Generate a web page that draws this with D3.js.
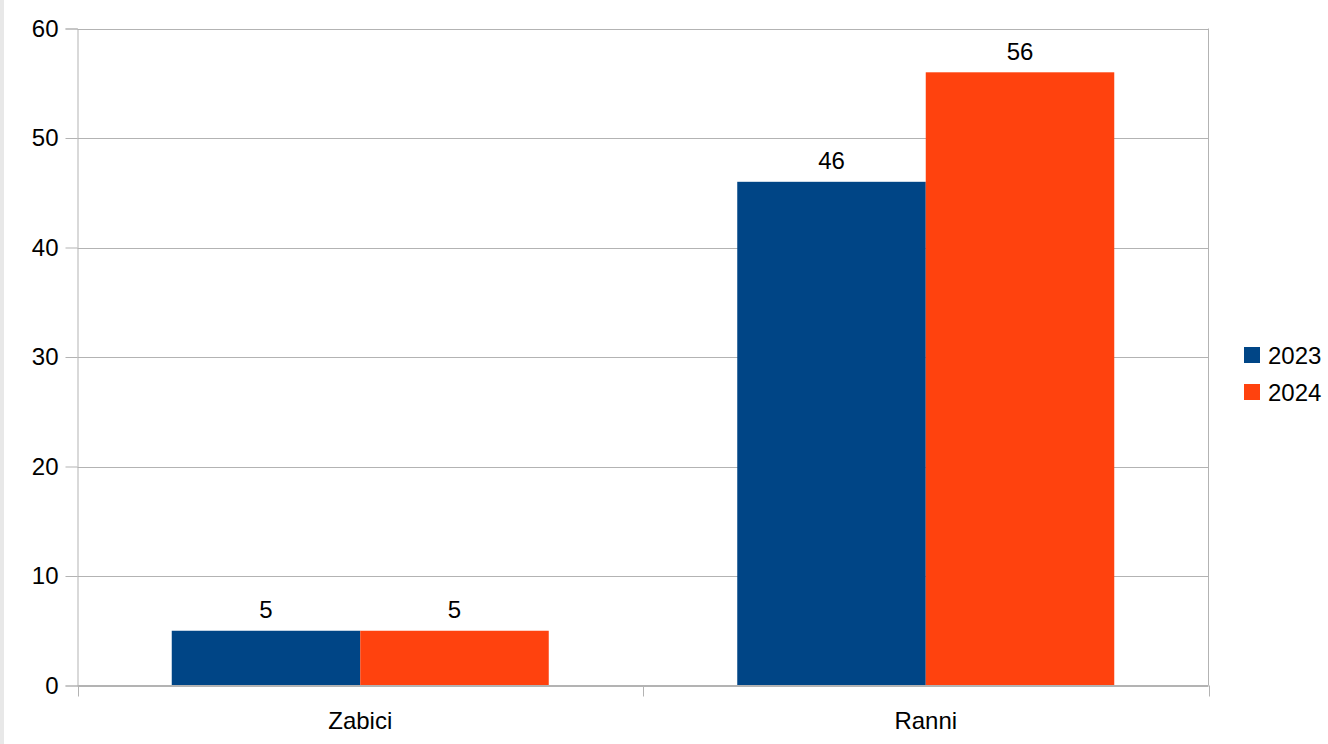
<!DOCTYPE html>
<html>
<head>
<meta charset="utf-8">
<script src="https://cdn.jsdelivr.net/npm/d3@7"></script>
<style>
  html, body { margin: 0; padding: 0; background: #fff; }
  svg { display: block; }
  text { font-family: "Liberation Sans", Arial, sans-serif; fill: #000; }
</style>
</head>
<body>
<svg id="chart" width="1328" height="744"></svg>
<script>
// Categories and yearly series
const categories = ["Zabici", "Ranni"];
const seriesNames = ["2023", "2024"];
const values2023 = [5, 46];
const values2024 = [5, 56];
const yTicks = [0, 10, 20, 30, 40, 50, 60];
const seriesColors = ["#004586", "#ff420e"];

const seriesValues = [values2023, values2024];

const svg = d3.select("#chart");
const W = 1328, H = 744;

// thin grey strip on the left edge
svg.append("rect").attr("x", 0).attr("y", 0).attr("width", 4).attr("height", H).attr("fill", "#e8e8e8");

const plot = { left: 77.5, right: 1208.5, top: 28.5, bottom: 685.5 };

const y = d3.scaleLinear().domain([0, 60]).range([plot.bottom, plot.top]);
const x0 = d3.scaleBand().domain(categories).range([plot.left, plot.right]).paddingInner(0).paddingOuter(0);
const x1 = d3.scaleBand().domain(seriesNames)
  .range([x0.bandwidth() / 6, x0.bandwidth() * 5 / 6]).padding(0);

const gridColor = "#b3b3b3";

// horizontal gridlines
svg.append("g").selectAll("line").data(yTicks).join("line")
  .attr("x1", plot.left).attr("x2", plot.right)
  .attr("y1", d => Math.round(y(d)) + 0.5).attr("y2", d => Math.round(y(d)) + 0.5)
  .attr("stroke", gridColor).attr("stroke-width", 1);

// y axis
const yAxis = d3.axisLeft(y).tickValues(yTicks).tickSize(12).tickPadding(7).tickFormat(d3.format("d"));
const gy = svg.append("g").attr("transform", `translate(${plot.left},0)`).call(yAxis);
gy.select(".domain").attr("stroke", gridColor);
gy.selectAll(".tick line").attr("stroke", gridColor);
gy.selectAll(".tick text").attr("font-size", 24).attr("font-family", "Liberation Sans, Arial, sans-serif").attr("fill", "#000");

// right border
svg.append("line").attr("x1", plot.right).attr("x2", plot.right).attr("y1", plot.top).attr("y2", plot.bottom)
  .attr("stroke", gridColor);

// bars
const groups = svg.append("g").selectAll("g").data(categories).join("g")
  .attr("transform", d => `translate(${x0(d)},0)`);

groups.selectAll("rect")
  .data((c, i) => seriesNames.map((s, j) => ({ s, v: seriesValues[j][i], j })))
  .join("rect")
  .attr("x", d => x1(d.s))
  .attr("width", x1.bandwidth())
  .attr("y", d => y(d.v))
  .attr("height", d => y(0) - y(d.v))
  .attr("fill", d => seriesColors[d.j]);

// value labels
groups.selectAll("text.val")
  .data((c, i) => seriesNames.map((s, j) => ({ s, v: seriesValues[j][i], j })))
  .join("text").attr("class", "val")
  .attr("x", d => x1(d.s) + x1.bandwidth() / 2)
  .attr("y", d => y(d.v) - 12.5)
  .attr("text-anchor", "middle")
  .attr("font-size", 24)
  .text(d => d.v);

// x axis line and category separators
const xBoundaries = [plot.left, ...categories.map(c => x0(c) + x0.bandwidth())];
const xAxis = d3.axisBottom(x0).tickSize(0).tickPadding(0);
const gx = svg.append("g").attr("transform", `translate(0,${plot.bottom})`);
gx.append("line").attr("x1", plot.left).attr("x2", plot.right).attr("y1", 0).attr("y2", 0).attr("stroke", gridColor);
gx.selectAll("line.sep").data(xBoundaries).join("line").attr("class", "sep")
  .attr("x1", d => Math.round(d) + 0.5 - (d === plot.right ? 1 : 0) * 0)
  .attr("x2", d => Math.round(d) + 0.5)
  .attr("y1", 0).attr("y2", 11).attr("stroke", gridColor);
gx.selectAll("text.cat").data(categories).join("text").attr("class", "cat")
  .attr("x", d => x0(d) + x0.bandwidth() / 2)
  .attr("y", 43)
  .attr("text-anchor", "middle")
  .attr("font-size", 24)
  .text(d => d);

// legend
const legend = svg.append("g").attr("transform", "translate(1244,347)");
const li = legend.selectAll("g").data(seriesNames).join("g")
  .attr("transform", (d, i) => `translate(0,${i * 37})`);
li.append("rect").attr("width", 16).attr("height", 16).attr("fill", (d, i) => seriesColors[i]);
li.append("text").attr("x", 24).attr("y", 17).attr("font-size", 24).text(d => d);
</script>
</body>
</html>
